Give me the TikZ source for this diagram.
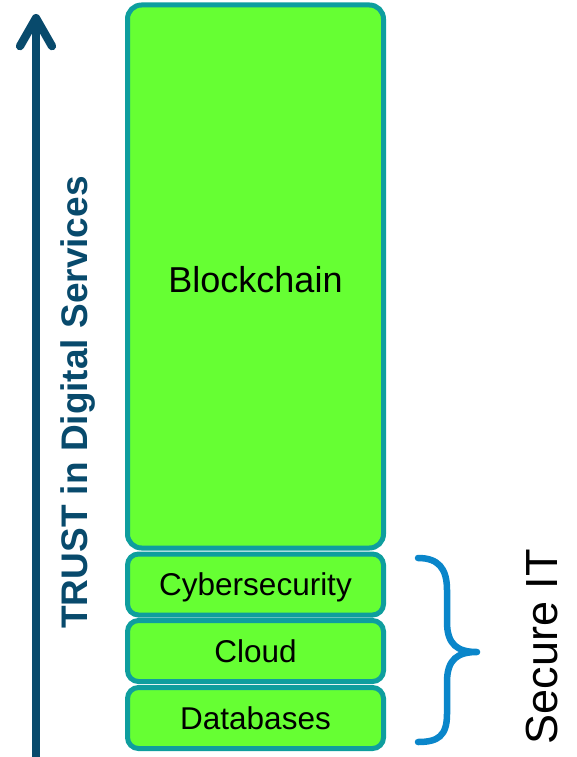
\documentclass[tikz,border=0pt]{standalone}
\usepackage{fontspec}
\setmainfont{Liberation Sans}
\usepackage{xcolor}
\usetikzlibrary{positioning, arrows.meta}
\definecolor{layergreen}{HTML}{66FF33}
\definecolor{layerteal}{HTML}{0E9E9E}
\definecolor{trustblue}{HTML}{084A6C}
\definecolor{bracedblue}{HTML}{0A86CA}
\begin{document}
\begin{tikzpicture}[x=1pt, y=-1pt,
        layer/.style={
                rectangle,
                rounded corners=14pt,
                line width=5pt,
                draw=layerteal,
                fill=layergreen,
                minimum width=256pt,
                inner sep=0pt,
                text depth=0pt,
                font=\fontsize{31.5}{36}\selectfont,
        },
        trustarrow/.style={
                draw=trustblue,
                line width=8.3pt,
                -{Straight Barb[length=28pt, width=32pt, round]},
        }]
            \useasboundingbox (0, 0) rectangle (576, 757);
            \node[layer, minimum height=543pt, font=\fontsize{36}{40}\selectfont] (blockchain) at (255.5, 276.5) {\raisebox{-6pt}{Blockchain}};
            \node[layer, minimum height=61pt, rounded corners=11pt] (cyber) at (255.5, 584.5) {Cybersecurity};
            \node[layer, minimum height=61pt, rounded corners=11pt] (cloud) at (255.5, 651) {Cloud};
            \node[layer, minimum height=61pt, rounded corners=11pt] (databases) at (255.5, 718) {Databases};
            \coordinate (trustbottom) at (36, 760);
            \coordinate (trusttop) at (36, 14);
            \draw[trustarrow] (trustbottom) -- (trusttop);
            \node[rotate=90, anchor=base, text=trustblue, font=\bfseries\fontsize{37}{40}\selectfont] (trust) at (87, 402.5) {TRUST in Digital Services};
            \draw[bracedblue, line width=6.5pt, line cap=round, line join=round]
                (418, 558) .. controls (438, 558) and (447, 568) .. (447, 590)
                -- (447, 622) .. controls (447, 645) and (458, 652) .. (477, 652)
                .. controls (458, 652) and (447, 659) .. (447, 682)
                -- (447, 714) .. controls (447, 736) and (438, 742) .. (418, 742);
            \node[rotate=90, anchor=base, font=\fontsize{45}{50}\selectfont] (secureit) at (557, 646.5) {Secure IT};
        \end{tikzpicture}
\end{document}
